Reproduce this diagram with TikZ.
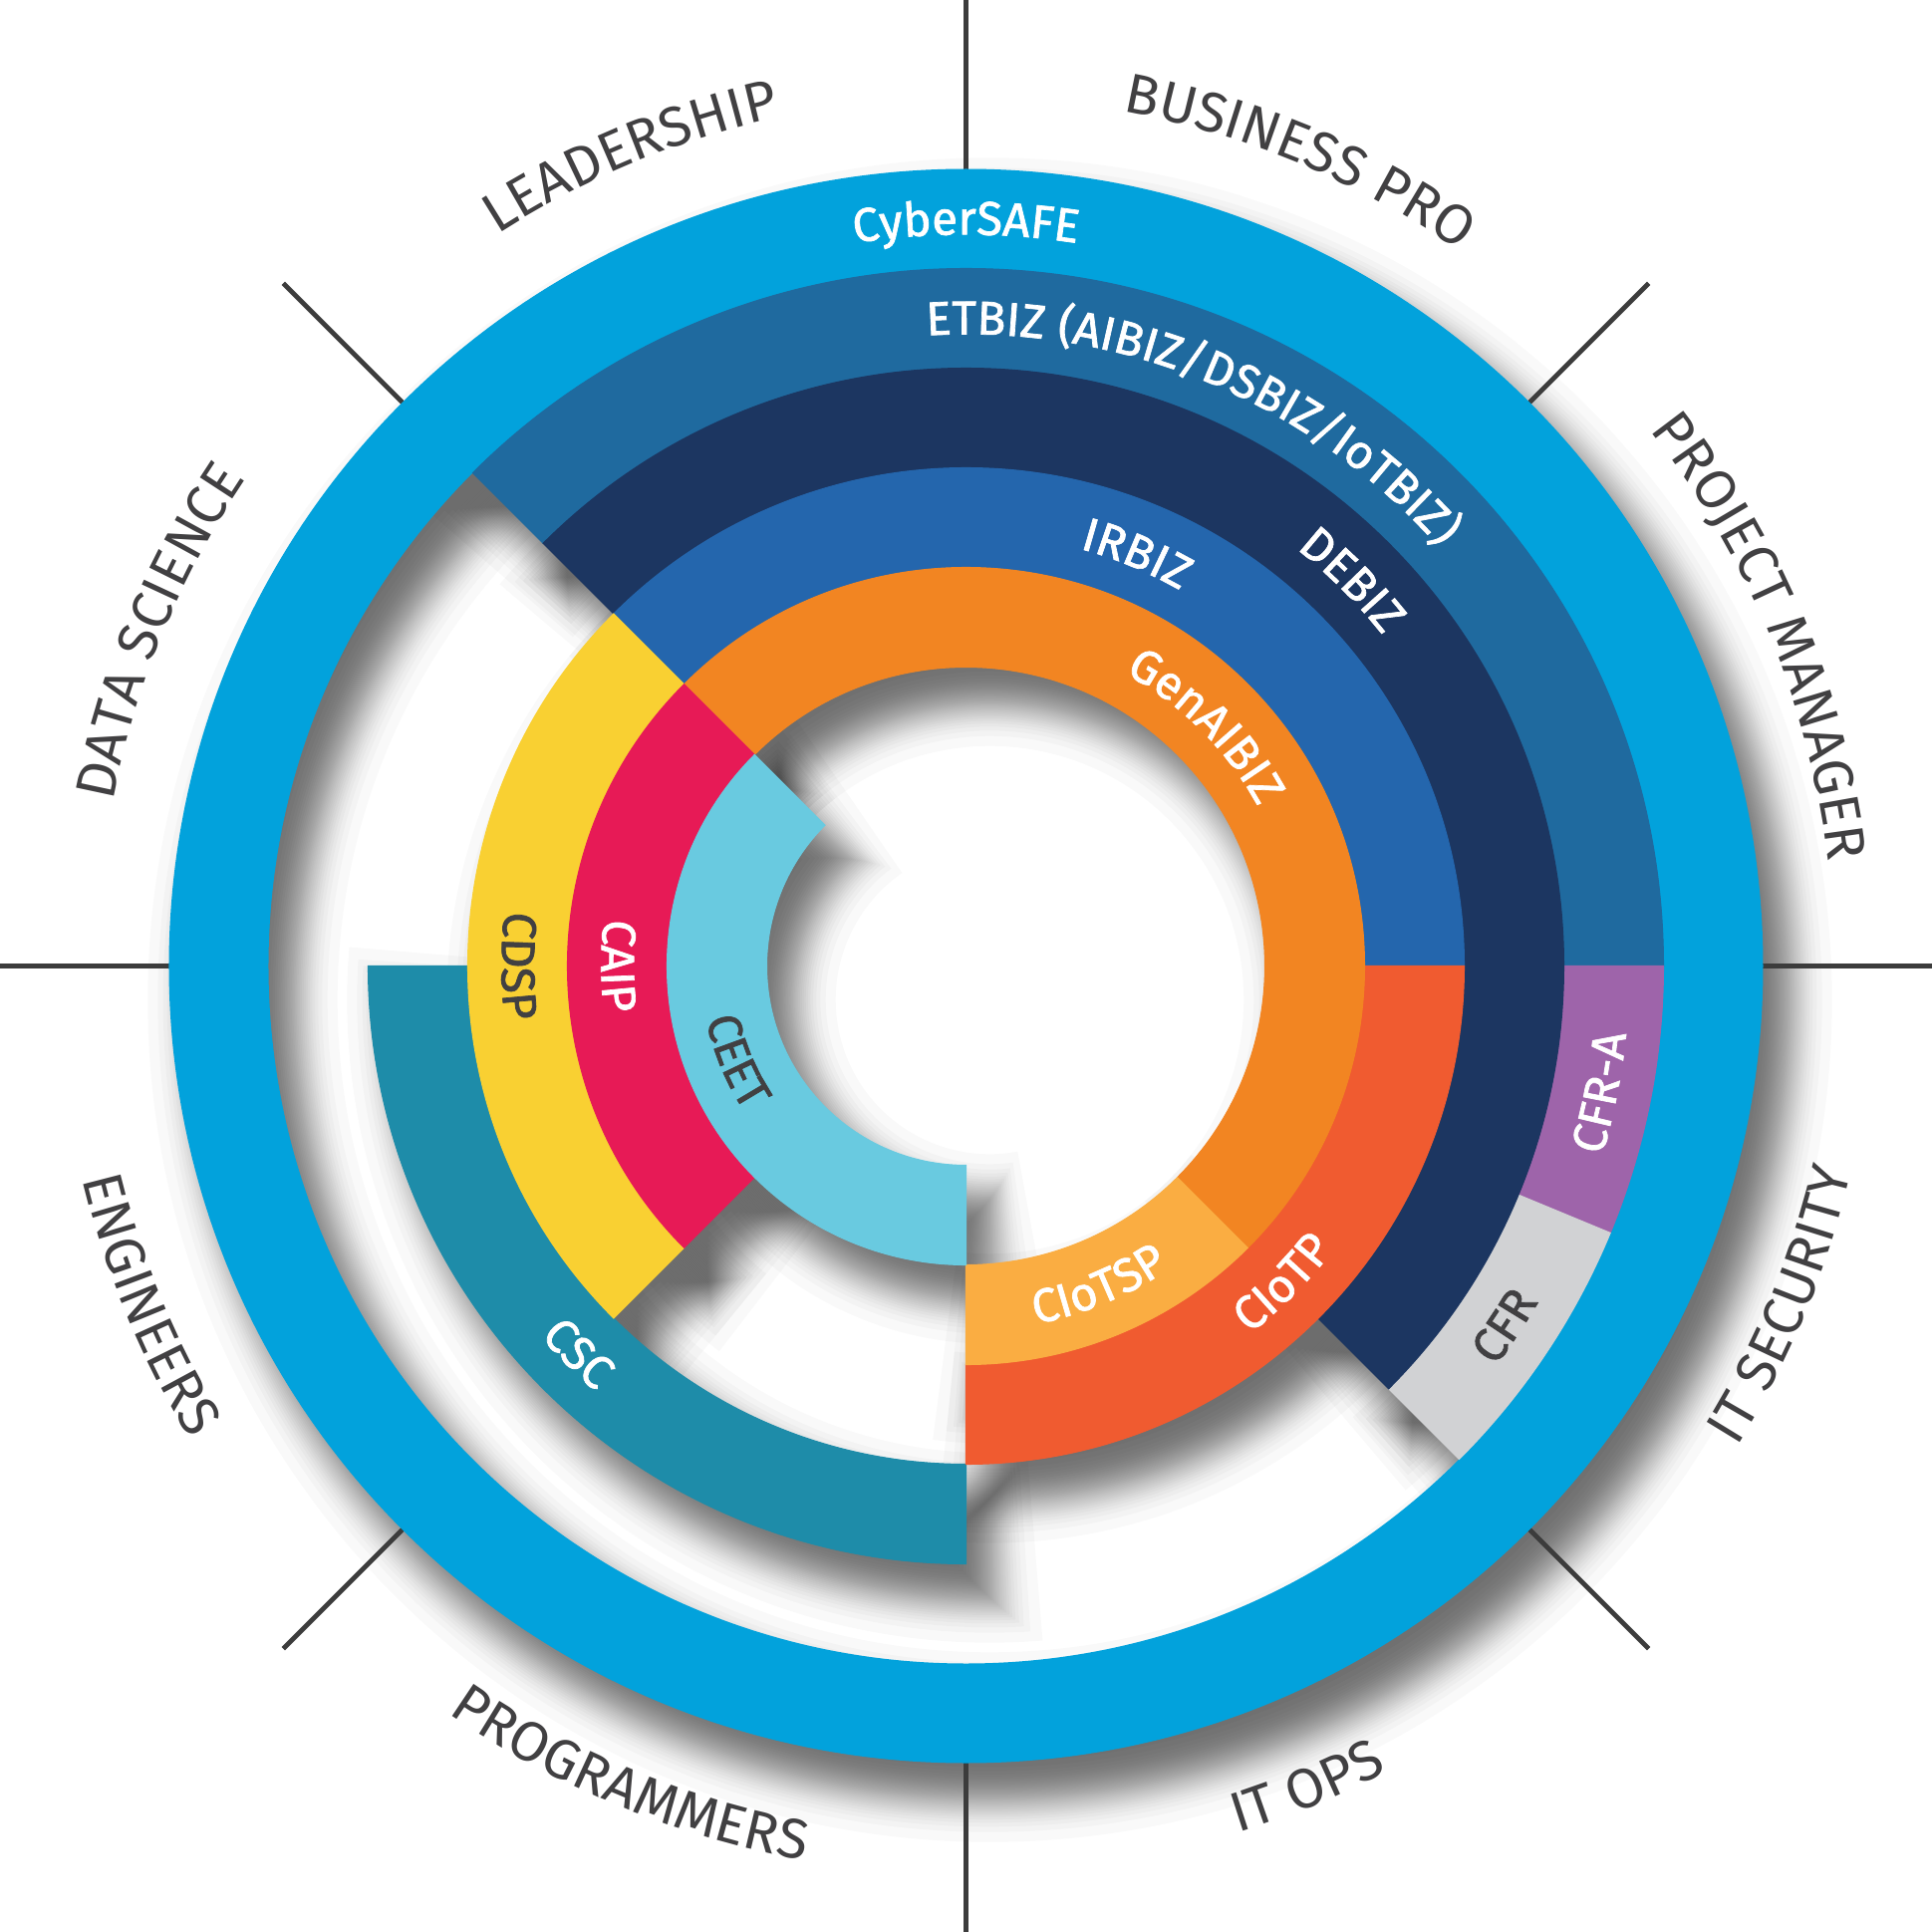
\documentclass[tikz,border=0pt]{standalone}
\usepackage{fontspec}
\setmainfont{Fira Sans}
\newfontfamily\ringfont[FakeBold=1.5]{Fira Sans}
\newcommand\ringlab{\ringfont\fontsize{13.5}{16}\selectfont}
\newcommand\outlab{\fontsize{16}{19}\selectfont}
\usetikzlibrary{decorations.text}
\definecolor{cyber}{HTML}{02A2DC}
\definecolor{etbiz}{HTML}{1F6A9F}
\definecolor{debiz}{HTML}{1C3661}
\definecolor{irbiz}{HTML}{2466AD}
\definecolor{genai}{HTML}{F28522}
\definecolor{ciotsp}{HTML}{FAAD42}
\definecolor{ciotp}{HTML}{F05B30}
\definecolor{cfra}{HTML}{9E64AA}
\definecolor{cfr}{HTML}{D1D2D4}
\definecolor{cdsp}{HTML}{F9D032}
\definecolor{caip}{HTML}{E71A56}
\definecolor{ceet}{HTML}{69CAE0}
\definecolor{csc}{HTML}{1E8CA9}
\definecolor{labelgray}{HTML}{414042}
\definecolor{linegray}{HTML}{3C3C3C}

\begin{document}
\begin{tikzpicture}[
      sepline/.style={linegray, line width=1.4pt},
      shadowlayer/.style={black, opacity=0.024},
      arclabel/.style={decorate, decoration={text along path, text align=center, text color=white}},
      darklabel/.style={arclabel, decoration={text color=labelgray}}]
      \useasboundingbox (-9.695,-9.695) rectangle (9.695,9.695);
      \fill [white] (-9.695,-9.695) rectangle (9.695,9.695);
      \begin{scope}[shift={(0.24,-0.34)}]
        \foreach \q in {0.452,0.352,0.298,0.258,0.226,0.199,0.175,0.152,0.131,0.112,0.093,0.076,0.058,0.041,0.025,0.008}
        \foreach \sg in {-1,1} {
          \pgfmathsetmacro\dd{\sg*\q}
          \fill [shadowlayer, even odd rule] (0,0) circle [radius=8+(\dd)] (0,0) circle [radius=7-(\dd)];
          \foreach \a/\b/\ri/\ro in {0/135/6/7, -22.5/0/6/7, -45/-22.5/6/7, -45/135/5/6, 180/270/5/6,
            0/135/4/5, -90/0/4/5, 135/225/4/5, -45/135/3/4, -90/-45/3/4, 135/225/3/4, 135/270/2/3} {
            \pgfmathsetmacro\shA{\a-(\dd)/(\ri+\ro)*114.6}
            \pgfmathsetmacro\shB{\b+(\dd)/(\ri+\ro)*114.6}
            \pgfmathsetmacro\shO{\ro+(\dd)}
            \pgfmathsetmacro\shI{\ri-(\dd)}
            \fill [shadowlayer] (\shA:\shO) arc [start angle=\shA, end angle=\shB, radius=\shO]
              -- (\shB:\shI) arc [start angle=\shB, end angle=\shA, radius=\shI] -- cycle;
          }
        }
      \end{scope}
      \foreach \a in {0,45,...,315}
        \draw [sepline] (\a:7.9) -- (\a:9.69);
      \fill [cyber, even odd rule] (0,0) circle [radius=8] (0,0) circle [radius=7];
      \foreach \a/\b/\ri/\ro/\c in {0/135/6/7/etbiz, -22.5/0/6/7/cfra, -45/-22.5/6/7/cfr,
        -45/135/5/6/debiz, 180/270/5/6/csc, 0/135/4/5/irbiz, -90/0/4/5/ciotp, 135/225/4/5/cdsp,
        -45/135/3/4/genai, -90/-45/3/4/ciotsp, 135/225/3/4/caip, 135/270/2/3/ceet}
        \path [fill=\c, draw=\c, line width=0.3pt] (\a:\ro) arc [start angle=\a, end angle=\b, radius=\ro]
          -- (\b:\ri) arc [start angle=\b, end angle=\a, radius=\ri] -- cycle;
      \path [arclabel, decoration={text={|\ringlab|CyberSAFE}}] (170:7.34) arc [start angle=170, end angle=10, radius=7.34];
      \path [arclabel, decoration={text={|\ringlab|ETBIZ (AIBIZ/DSBIZ/IoTBIZ)}}] (147.5:6.34) arc [start angle=147.5, end angle=-12.5, radius=6.34];
      \path [arclabel, decoration={text={|\ringlab|DEBIZ}}] (125:5.34) arc [start angle=125, end angle=-35, radius=5.34];
      \path [arclabel, decoration={text={|\ringlab|IRBIZ}}] (147.5:4.34) arc [start angle=147.5, end angle=-12.5, radius=4.34];
      \path [arclabel, decoration={text={|\ringlab|GenAIBIZ}}] (125:3.34) arc [start angle=125, end angle=-35, radius=3.34];
      \path [arclabel, decoration={text={|\ringlab|CIoTSP}}] (-147.5:3.66) arc [start angle=-147.5, end angle=12.5, radius=3.66];
      \path [arclabel, decoration={text={|\ringlab|CIoTP}}] (-125:4.66) arc [start angle=-125, end angle=35, radius=4.66];
      \path [arclabel, decoration={text={|\ringlab|CFR-A}}] (-91.25:6.66) arc [start angle=-91.25, end angle=68.75, radius=6.66];
      \path [darklabel, decoration={text={|\ringlab|CFR}}] (-113.75:6.66) arc [start angle=-113.75, end angle=46.25, radius=6.66];
      \path [darklabel, decoration={text={|\ringlab|CDSP}}] (100:4.66) arc [start angle=100, end angle=260, radius=4.66];
      \path [arclabel, decoration={text={|\ringlab|CAIP}}] (100:3.66) arc [start angle=100, end angle=260, radius=3.66];
      \path [darklabel, decoration={text={|\ringlab|CEET}}] (122.5:2.66) arc [start angle=122.5, end angle=282.5, radius=2.66];
      \path [arclabel, decoration={text={|\ringlab|CSC}}] (145:5.66) arc [start angle=145, end angle=305, radius=5.66];
      \path [darklabel, decoration={text={|\outlab|LEADERSHIP}}] (172.5:8.72) arc [start angle=172.5, end angle=52.5, radius=8.72];
      \path [darklabel, decoration={text={|\outlab|BUSINESS PRO}}] (127.5:8.72) arc [start angle=127.5, end angle=7.5, radius=8.72];
      \path [darklabel, decoration={text={|\outlab|PROJECT MANAGER}}] (82.5:8.72) arc [start angle=82.5, end angle=-37.5, radius=8.72];
      \path [darklabel, decoration={text={|\outlab|DATA SCIENCE}}] (217.5:8.72) arc [start angle=217.5, end angle=97.5, radius=8.72];
      \path [darklabel, decoration={text={|\outlab|IT SECURITY}}] (-82.5:9.12) arc [start angle=-82.5, end angle=37.5, radius=9.12];
      \path [darklabel, decoration={text={|\outlab|IT OPS}}] (-127.5:9.12) arc [start angle=-127.5, end angle=-7.5, radius=9.12];
      \path [darklabel, decoration={text={|\outlab|PROGRAMMERS}}] (-172.5:9.12) arc [start angle=-172.5, end angle=-52.5, radius=9.12];
      \path [darklabel, decoration={text={|\outlab|ENGINEERS}}] (-217.5:9.12) arc [start angle=-217.5, end angle=-97.5, radius=9.12];
    \end{tikzpicture}
\end{document}
